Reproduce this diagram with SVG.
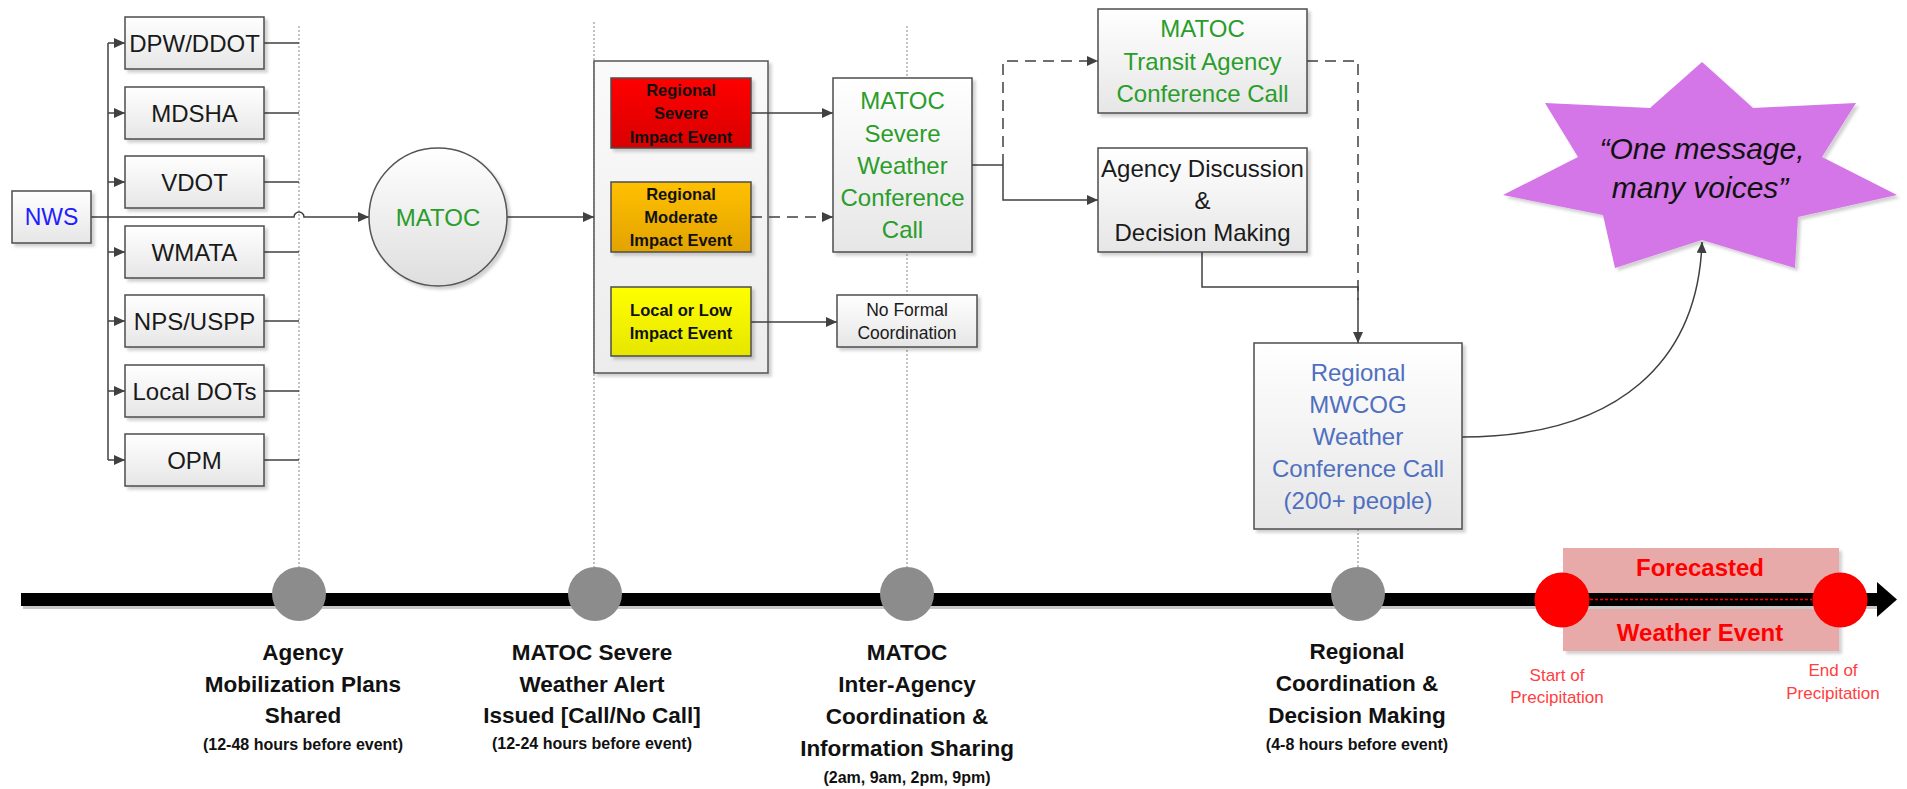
<svg xmlns="http://www.w3.org/2000/svg" width="1907" height="789" viewBox="0 0 1907 789">
<defs>
<linearGradient id="gBox" x1="0" y1="0" x2="0" y2="1"><stop offset="0" stop-color="#ffffff"/><stop offset="1" stop-color="#e6e6e6"/></linearGradient>
<linearGradient id="gCont" x1="0" y1="0" x2="0" y2="1"><stop offset="0" stop-color="#fafafa"/><stop offset="1" stop-color="#ececec"/></linearGradient>
<linearGradient id="gCirc" x1="0" y1="0" x2="0" y2="1"><stop offset="0" stop-color="#ffffff"/><stop offset="1" stop-color="#dedede"/></linearGradient>
<linearGradient id="gRed" x1="0" y1="0" x2="0" y2="1"><stop offset="0" stop-color="#ff0000"/><stop offset="1" stop-color="#d90000"/></linearGradient>
<linearGradient id="gOrange" x1="0" y1="0" x2="0" y2="1"><stop offset="0" stop-color="#ffc000"/><stop offset="1" stop-color="#e3a300"/></linearGradient>
<linearGradient id="gYellow" x1="0" y1="0" x2="0" y2="1"><stop offset="0" stop-color="#ffff00"/><stop offset="1" stop-color="#e6e600"/></linearGradient>
<filter id="sh" x="-10%" y="-10%" width="130%" height="130%"><feDropShadow dx="3" dy="3" stdDeviation="1.5" flood-color="#000" flood-opacity="0.18"/></filter>
<marker id="arr" markerUnits="userSpaceOnUse" markerWidth="11" markerHeight="10" refX="11" refY="5" orient="auto"><path d="M0,0 L11,5 L0,10 Z" fill="#404040"/></marker>
<style>
.box{fill:url(#gBox);stroke:#4d4d4d;stroke-width:1.5;filter:url(#sh)}
.t{font-family:"Liberation Sans",Arial,sans-serif;text-anchor:middle}
.m{font-size:24px;fill:#1a1a1a}
.g{font-size:24px;fill:#2a9d2a}
.b{font-size:24px;fill:#4f6fc0}
.ev{font-size:16.5px;font-weight:bold;fill:#111}
.tl{font-size:22.5px;font-weight:bold;fill:#111}
.sub{font-size:16px;font-weight:bold;fill:#111}
.c{fill:none;stroke:#404040;stroke-width:1.5}
.d{stroke-dasharray:11 7}
.dot{fill:none;stroke:#999;stroke-width:1.2;stroke-dasharray:2 2}
</style>
</defs>
<rect width="1907" height="789" fill="#fff"/>

<g id="guides">
<path class="dot" d="M299 26 V567"/>
<path class="dot" d="M594 22 V567"/>
<path class="dot" d="M907 26 V567"/>
<path class="dot" d="M1358 529 V567"/>
</g>

<g id="container"><rect x="594" y="61" width="174" height="312" fill="url(#gCont)" stroke="#555" stroke-width="1.5" filter="url(#sh)"/></g>

<g id="connectors">
<path class="c" d="M91 217 H294 A5 5 0 0 1 304 217 H369" marker-end="url(#arr)"/>
<path class="c" d="M108 43 V460"/>
<path class="c" d="M108 43 H125" marker-end="url(#arr)"/>
<path class="c" d="M108 113 H125" marker-end="url(#arr)"/>
<path class="c" d="M108 182 H125" marker-end="url(#arr)"/>
<path class="c" d="M108 252 H125" marker-end="url(#arr)"/>
<path class="c" d="M108 321 H125" marker-end="url(#arr)"/>
<path class="c" d="M108 391 H125" marker-end="url(#arr)"/>
<path class="c" d="M108 460 H125" marker-end="url(#arr)"/>
<path class="c" d="M264 43 H299 M264 113 H299 M264 182 H299 M264 252 H299 M264 321 H299 M264 391 H299 M264 460 H299"/>
<path class="c" d="M507 217 H594" marker-end="url(#arr)"/>
<path class="c" d="M751 113 H833" marker-end="url(#arr)"/>
<path class="c d" d="M751 217 H833" marker-end="url(#arr)"/>
<path class="c" d="M751 322 H837" marker-end="url(#arr)"/>
<path class="c" d="M972 165 H1003"/>
<path class="c d" d="M1003 165 V61 H1098" marker-end="url(#arr)"/>
<path class="c" d="M1003 165 V200 H1098" marker-end="url(#arr)"/>
<path class="c d" d="M1307 61 H1358 V300"/>
<path class="c" d="M1202 252 V287 H1358 V343" marker-end="url(#arr)"/>
<path class="c" d="M1462 437 C1620 437 1698 360 1702 242" marker-end="url(#arr)"/>
</g>

<g id="nws"><rect class="box" x="12" y="191" width="79" height="52"/><text class="t" x="51.5" y="225" font-size="23" fill="#2020ff">NWS</text></g>
<g id="dpw"><rect class="box" x="125" y="17" width="139" height="52"/><text class="t m" x="194.5" y="51.5">DPW/DDOT</text></g>
<g id="mdsha"><rect class="box" x="125" y="87" width="139" height="52"/><text class="t m" x="194.5" y="121.5">MDSHA</text></g>
<g id="vdot"><rect class="box" x="125" y="156" width="139" height="52"/><text class="t m" x="194.5" y="190.5">VDOT</text></g>
<g id="wmata"><rect class="box" x="125" y="226" width="139" height="52"/><text class="t m" x="194.5" y="260.5">WMATA</text></g>
<g id="nps"><rect class="box" x="125" y="295" width="139" height="52"/><text class="t m" x="194.5" y="329.5">NPS/USPP</text></g>
<g id="localdots"><rect class="box" x="125" y="365" width="139" height="52"/><text class="t m" x="194.5" y="399.5">Local DOTs</text></g>
<g id="opm"><rect class="box" x="125" y="434" width="139" height="52"/><text class="t m" x="194.5" y="468.5">OPM</text></g>

<g id="matoc"><circle cx="438" cy="217" r="69" fill="url(#gCirc)" stroke="#555" stroke-width="1.5" filter="url(#sh)"/><text class="t g" x="438" y="225.5">MATOC</text></g>

<g id="ev-severe"><rect x="611" y="78" width="140" height="70" fill="url(#gRed)" stroke="#4d4d4d" stroke-width="1.5" filter="url(#sh)"/>
<text class="t ev" x="681" y="96">Regional</text><text class="t ev" x="681" y="119">Severe</text><text class="t ev" x="681" y="143">Impact Event</text></g>
<g id="ev-moderate"><rect x="611" y="182" width="140" height="70" fill="url(#gOrange)" stroke="#4d4d4d" stroke-width="1.5" filter="url(#sh)"/>
<text class="t ev" x="681" y="200">Regional</text><text class="t ev" x="681" y="223">Moderate</text><text class="t ev" x="681" y="246">Impact Event</text></g>
<g id="ev-local"><rect x="611" y="287" width="140" height="69" fill="url(#gYellow)" stroke="#4d4d4d" stroke-width="1.5" filter="url(#sh)"/>
<text class="t ev" x="681" y="316">Local or Low</text><text class="t ev" x="681" y="339">Impact Event</text></g>

<g id="severe-call"><rect class="box" x="833" y="78" width="139" height="174"/>
<text class="t g" x="902.5" y="108.5">MATOC</text><text class="t g" x="902.5" y="141.5">Severe</text><text class="t g" x="902.5" y="173.5">Weather</text><text class="t g" x="902.5" y="205.5">Conference</text><text class="t g" x="902.5" y="237.5">Call</text></g>

<g id="no-formal"><rect class="box" x="837" y="295" width="140" height="52"/>
<text class="t" x="907" y="316.3" font-size="17.5" fill="#1a1a1a">No Formal</text><text class="t" x="907" y="339.3" font-size="17.5" fill="#1a1a1a">Coordination</text></g>

<g id="transit"><rect class="box" x="1098" y="9" width="209" height="104"/>
<text class="t g" x="1202.5" y="36.5">MATOC</text><text class="t g" x="1202.5" y="69.5">Transit Agency</text><text class="t g" x="1202.5" y="101.5">Conference Call</text></g>

<g id="agency-discussion"><rect class="box" x="1098" y="148" width="209" height="104"/>
<text class="t m" x="1202.5" y="176.5">Agency Discussion</text><text class="t m" x="1202.5" y="208.5">&amp;</text><text class="t m" x="1202.5" y="240.5">Decision Making</text></g>

<g id="regional"><rect class="box" x="1254" y="343" width="208" height="186"/>
<text class="t b" x="1358" y="380.5">Regional</text><text class="t b" x="1358" y="412.5">MWCOG</text><text class="t b" x="1358" y="444.5">Weather</text><text class="t b" x="1358" y="476.5">Conference Call</text><text class="t b" x="1358" y="508.5">(200+ people)</text></g>

<g id="star"><polygon points="1702,62 1753,108 1856,103 1822,157 1897,195 1798,217 1795,268 1702,240 1615,268 1603,215 1503,195 1578,157 1545,103 1650,108" fill="#d474e8" filter="url(#sh)"/>
<text class="t" x="1702" y="158.7" font-size="30" font-style="italic" fill="#111">“One message,</text>
<text class="t" x="1700" y="197.7" font-size="30" font-style="italic" fill="#111">many voices”</text></g>

<g id="timeline">
<rect x="1563" y="548" width="276" height="103" fill="#e8a9a9" filter="url(#sh)"/>
<rect x="23" y="596" width="1857" height="13" fill="#c8c8c8"/>
<rect x="21" y="593" width="1859" height="13" fill="#000"/>
<polygon points="1877,582 1897,599.5 1877,617" fill="#000"/>
<path d="M1590 599.5 H1812" stroke="#ff0000" stroke-width="1.5" stroke-dasharray="3 2" fill="none"/>
<circle cx="299" cy="594" r="27" fill="#8c8c8c"/>
<circle cx="595" cy="594" r="27" fill="#8c8c8c"/>
<circle cx="907" cy="594" r="27" fill="#8c8c8c"/>
<circle cx="1358" cy="594" r="27" fill="#8c8c8c"/>
<circle cx="1562" cy="600" r="27.5" fill="#ff0000"/>
<circle cx="1840" cy="600" r="27.5" fill="#ff0000"/>
<text class="t" x="1700" y="575.6" font-size="24" font-weight="bold" fill="#ff0000">Forecasted</text>
<text class="t" x="1700" y="640.6" font-size="24" font-weight="bold" fill="#ff0000">Weather Event</text>
<text class="t" x="1557" y="681" font-size="17" fill="#ff4040">Start of</text>
<text class="t" x="1557" y="703" font-size="17" fill="#ff4040">Precipitation</text>
<text class="t" x="1833" y="676" font-size="17" fill="#ff4040">End of</text>
<text class="t" x="1833" y="699" font-size="17" fill="#ff4040">Precipitation</text>
</g>

<g id="label-1">
<text class="t tl" x="303" y="660">Agency</text><text class="t tl" x="303" y="692">Mobilization Plans</text><text class="t tl" x="303" y="723">Shared</text><text class="t sub" x="303" y="749.8">(12-48 hours before event)</text></g>
<g id="label-2">
<text class="t tl" x="592" y="660">MATOC Severe</text><text class="t tl" x="592" y="692">Weather Alert</text><text class="t tl" x="592" y="723">Issued [Call/No Call]</text><text class="t sub" x="592" y="748.8">(12-24 hours before event)</text></g>
<g id="label-3">
<text class="t tl" x="907" y="660">MATOC</text><text class="t tl" x="907" y="692">Inter-Agency</text><text class="t tl" x="907" y="724">Coordination &amp;</text><text class="t tl" x="907" y="756">Information Sharing</text><text class="t sub" x="907" y="782.8">(2am, 9am, 2pm, 9pm)</text></g>
<g id="label-4">
<text class="t tl" x="1357" y="659">Regional</text><text class="t tl" x="1357" y="691">Coordination &amp;</text><text class="t tl" x="1357" y="723">Decision Making</text><text class="t sub" x="1357" y="749.8">(4-8 hours before event)</text></g>
</svg>
